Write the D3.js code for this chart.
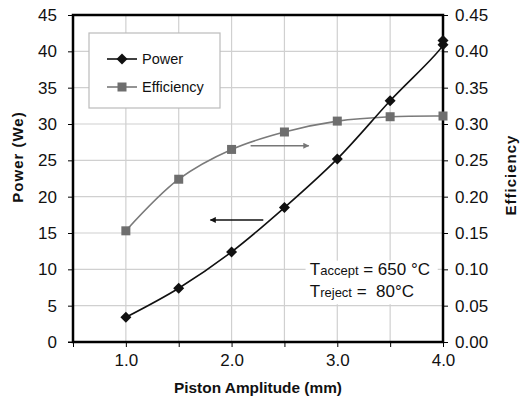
<!DOCTYPE html>
<html>
<head>
<meta charset="utf-8">
<script src="https://cdn.jsdelivr.net/npm/d3@7"></script>
<style>
  body { margin: 0; background: #fff; }
  text { font-family: "Liberation Sans", Arial, sans-serif; }
  .axis path, .axis line { stroke: #000; }
</style>
</head>
<body>
<div id="chart"></div>
<script>
// data
var amplitude = [1.0, 1.5, 2.0, 2.5, 3.0, 3.5, 4.0, 4.0];
var power = [3.4, 7.4, 12.4, 18.5, 25.2, 33.2, 40.9, 41.5];
var amplitudeEff = [1.0, 1.5, 2.0, 2.5, 3.0, 3.5, 4.0];
var efficiency = [0.153, 0.224, 0.265, 0.289, 0.304, 0.310, 0.311];
var xTicks = [0.5, 1.0, 1.5, 2.0, 2.5, 3.0, 3.5, 4.0];
var powerTicks = [0, 5, 10, 15, 20, 25, 30, 35, 40, 45];
var effTicks = [0, 0.05, 0.10, 0.15, 0.20, 0.25, 0.30, 0.35, 0.40, 0.45];

var chart_width = 521;
var chart_height = 402;
var margin = { top: 15, right: 78, bottom: 60, left: 73 };
var w = chart_width - margin.left - margin.right;
var h = chart_height - margin.top - margin.bottom;

var svg = d3.select('#chart')
  .append('svg')
  .attr('width', chart_width)
  .attr('height', chart_height);

var g = svg.append('g')
  .attr('transform', 'translate(' + margin.left + ',' + margin.top + ')');

// scales
var x_scale = d3.scaleLinear().domain([0.5, 4.0]).range([0, w]);
var y_scale = d3.scaleLinear().domain([0, 45]).range([h, 0]);
var e_scale = d3.scaleLinear().domain([0, 0.45]).range([h, 0]);

// gridlines
g.append('g')
  .selectAll('line')
  .data(powerTicks.slice(1, -1))
  .enter()
  .append('line')
  .attr('x1', 0).attr('x2', w)
  .attr('y1', function(d) { return y_scale(d); })
  .attr('y2', function(d) { return y_scale(d); })
  .attr('stroke', '#d0d0d0').attr('stroke-width', 1.2);

g.append('g')
  .selectAll('line')
  .data(xTicks.slice(1, -1))
  .enter()
  .append('line')
  .attr('y1', 0).attr('y2', h)
  .attr('x1', function(d) { return x_scale(d); })
  .attr('x2', function(d) { return x_scale(d); })
  .attr('stroke', '#d0d0d0').attr('stroke-width', 1.2);

// axes
var x_axis = d3.axisBottom(x_scale)
  .tickValues(xTicks)
  .tickSize(5)
  .tickPadding(7)
  .tickFormat(function(d) { return d % 1 === 0 ? d.toFixed(1) : ''; });
g.append('g')
  .attr('class', 'axis')
  .attr('transform', 'translate(0,' + h + ')')
  .call(x_axis)
  .call(function(s) { s.select('.domain').remove(); })
  .selectAll('text').attr('font-size', 17).attr('fill', '#111');

var y_axis = d3.axisLeft(y_scale)
  .tickValues(powerTicks)
  .tickSize(5)
  .tickPadding(11);
g.append('g')
  .attr('class', 'axis')
  .call(y_axis)
  .call(function(s) { s.select('.domain').remove(); })
  .selectAll('text').attr('font-size', 17).attr('fill', '#111');

var e_axis = d3.axisRight(e_scale)
  .tickValues(effTicks)
  .tickSize(5)
  .tickPadding(7)
  .tickFormat(d3.format('.2f'));
g.append('g')
  .attr('class', 'axis')
  .attr('transform', 'translate(' + w + ',0)')
  .call(e_axis)
  .call(function(s) { s.select('.domain').remove(); })
  .selectAll('text').attr('font-size', 17).attr('fill', '#111');

// corner tick sticking out left at x=0.5
g.append('line').attr('x1', -5).attr('x2', 0).attr('y1', h).attr('y2', h).attr('stroke', '#000');

// annotation text with white box
var ann = g.append('g');
ann.append('rect')
  .attr('x', x_scale(2.7)).attr('y', y_scale(11.2))
  .attr('width', x_scale(3.95) - x_scale(2.7))
  .attr('height', y_scale(5.2) - y_scale(11.2))
  .attr('fill', '#fff');
var t1 = ann.append('text')
  .attr('x', x_scale(2.74)).attr('y', y_scale(9.2))
  .attr('font-size', 17).attr('fill', '#111')
  .style('white-space', 'pre');
t1.append('tspan').text('T');
t1.append('tspan').attr('font-size', 13).text('accept');
t1.append('tspan').text(' = 650 °C');
var t2 = ann.append('text')
  .attr('x', x_scale(2.74)).attr('y', y_scale(6.2))
  .attr('font-size', 17).attr('fill', '#111')
  .style('white-space', 'pre');
t2.append('tspan').text('T');
t2.append('tspan').attr('font-size', 13).text('reject');
t2.append('tspan').text(' =  80°C');

// frame
g.append('rect')
  .attr('width', w).attr('height', h)
  .attr('fill', 'none').attr('stroke', '#000').attr('stroke-width', 2.5);

// arrows
var defs = svg.append('defs');
function arrowHead(id, color) {
  defs.append('marker')
    .attr('id', id)
    .attr('viewBox', '0 0 10 10')
    .attr('refX', 9).attr('refY', 5)
    .attr('markerWidth', 7).attr('markerHeight', 6)
    .attr('markerUnits', 'userSpaceOnUse')
    .attr('orient', 'auto')
    .append('path').attr('d', 'M0,0L10,5L0,10Z').attr('fill', color);
}
arrowHead('ah-gray', '#777');
arrowHead('ah-black', '#111');

g.append('line')
  .attr('x1', x_scale(2.18)).attr('x2', x_scale(2.73))
  .attr('y1', e_scale(0.27)).attr('y2', e_scale(0.27))
  .attr('stroke', '#777').attr('stroke-width', 1.5)
  .attr('marker-end', 'url(#ah-gray)');
g.append('line')
  .attr('x1', x_scale(2.3)).attr('x2', x_scale(1.8))
  .attr('y1', y_scale(16.8)).attr('y2', y_scale(16.8))
  .attr('stroke', '#111').attr('stroke-width', 1.5)
  .attr('marker-end', 'url(#ah-black)');

// efficiency series
var effData = amplitudeEff.map(function(a, i) { return [a, efficiency[i]]; });
var effLine = d3.line()
  .x(function(d) { return x_scale(d[0]); })
  .y(function(d) { return e_scale(d[1]); })
  .curve(d3.curveCatmullRom.alpha(0.5));
g.append('path')
  .datum(effData)
  .attr('d', effLine)
  .attr('fill', 'none').attr('stroke', '#7a7a7a').attr('stroke-width', 1.6);
g.append('g')
  .selectAll('rect')
  .data(effData)
  .enter()
  .append('rect')
  .attr('x', function(d) { return x_scale(d[0]) - 4.5; })
  .attr('y', function(d) { return e_scale(d[1]) - 4.5; })
  .attr('width', 9).attr('height', 9)
  .attr('fill', '#6e6e6e');

// power series
var powData = amplitude.map(function(a, i) { return [a, power[i]]; });
var powLine = d3.line()
  .x(function(d) { return x_scale(d[0]); })
  .y(function(d) { return y_scale(d[1]); })
  .curve(d3.curveCatmullRom.alpha(0.5));
g.append('path')
  .datum(powData)
  .attr('d', powLine)
  .attr('fill', 'none').attr('stroke', '#111').attr('stroke-width', 1.6);
var diamond = 'M0,-5.5L5.5,0L0,5.5L-5.5,0Z';
g.append('g')
  .selectAll('path')
  .data(powData)
  .enter()
  .append('path')
  .attr('d', diamond)
  .attr('transform', function(d) {
    return 'translate(' + x_scale(d[0]) + ',' + y_scale(d[1]) + ')';
  })
  .attr('fill', '#111');

// legend
var lg = svg.append('g').attr('transform', 'translate(89,33)');
lg.append('rect')
  .attr('width', 131).attr('height', 75)
  .attr('fill', '#fff').attr('stroke', '#bbb').attr('stroke-width', 1.2);
lg.append('line').attr('x1', 18).attr('x2', 48).attr('y1', 26).attr('y2', 26)
  .attr('stroke', '#111').attr('stroke-width', 1.6);
lg.append('path').attr('d', diamond).attr('transform', 'translate(33,26)').attr('fill', '#111');
lg.append('text').attr('x', 53).attr('y', 31).attr('font-size', 14.5).attr('fill', '#111').text('Power');
lg.append('line').attr('x1', 18).attr('x2', 48).attr('y1', 54).attr('y2', 54)
  .attr('stroke', '#7a7a7a').attr('stroke-width', 1.6);
lg.append('rect').attr('x', 28.5).attr('y', 49.5).attr('width', 9).attr('height', 9).attr('fill', '#6e6e6e');
lg.append('text').attr('x', 53).attr('y', 59).attr('font-size', 14.5).attr('fill', '#111').text('Efficiency');

// axis titles
svg.append('text')
  .attr('x', margin.left + x_scale(2.25)).attr('y', 393)
  .attr('text-anchor', 'middle')
  .attr('font-size', 15).attr('font-weight', 'bold').attr('fill', '#111')
  .attr('textLength', 168).attr('lengthAdjust', 'spacingAndGlyphs')
  .text('Piston Amplitude (mm)');
svg.append('text')
  .attr('transform', 'translate(23,157) rotate(-90)')
  .attr('text-anchor', 'middle')
  .attr('font-size', 15).attr('font-weight', 'bold').attr('fill', '#111')
  .attr('letter-spacing', 1)
  .text('Power (We)');
svg.append('text')
  .attr('transform', 'translate(516,175) rotate(-90)')
  .attr('text-anchor', 'middle')
  .attr('font-size', 15).attr('font-weight', 'bold').attr('fill', '#111')
  .attr('letter-spacing', 1)
  .text('Efficiency');
</script>
</body>
</html>
